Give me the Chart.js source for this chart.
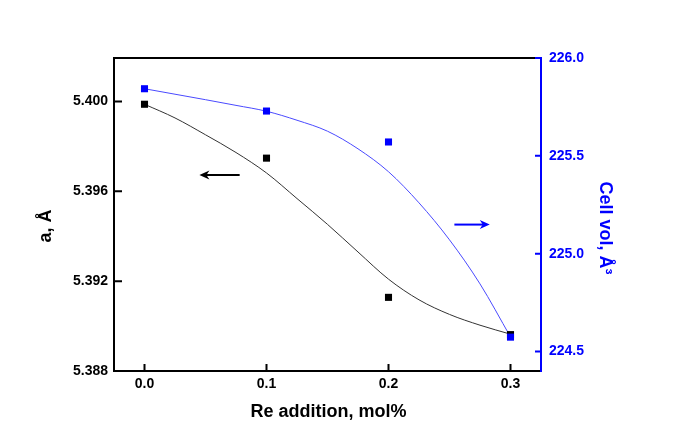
<!DOCTYPE html>
<html>
<head>
<meta charset="utf-8">
<script src="https://cdn.jsdelivr.net/npm/chart.js@4.4.1/dist/chart.umd.min.js"></script>
<style>
  body { margin: 0; background: #fff; }
  #wrap { width: 691px; height: 434px; position: relative; }
</style>
</head>
<body>
<div id="wrap"><canvas id="latticeChart"></canvas></div>
<script>
// measured points
var reAddition   = [0.0, 0.1, 0.2, 0.3];
var latticeA     = [5.39988, 5.39748, 5.39128, 5.38962];
var cellVolume   = [225.843, 225.729, 225.571, 224.574];

// fitted curves
var fitX         = [0, 0.025, 0.05, 0.075, 0.1, 0.125, 0.15, 0.175, 0.2, 0.225, 0.25, 0.275, 0.3];
var fitA         = [5.39988, 5.39927, 5.39852, 5.39773, 5.39682, 5.39568, 5.39453, 5.39330, 5.39209, 5.39117, 5.39052, 5.39004, 5.38964];
var fitVol       = [225.843, 225.815, 225.787, 225.758, 225.728, 225.682, 225.626, 225.536, 225.419, 225.260, 225.071, 224.846, 224.575];

// tick labels
var xTicks       = [0.0, 0.1, 0.2, 0.3];
var aTicks       = [5.388, 5.392, 5.396, 5.400];
var volTicks     = [224.5, 225.0, 225.5, 226.0];

// arrows: [x start, x end, y] in data units, head at the end
var arrowA       = [0.078, 0.045, 5.39673];
var arrowVol     = [0.254, 0.283, 225.149];

var blue = '#0000ff';

function pairs(xs, ys) {
  var out = [];
  for (var i = 0; i < xs.length; i++) out.push({ x: xs[i], y: ys[i] });
  return out;
}

function fixedTicks(list) {
  return function (scale) {
    scale.ticks = list.map(function (v) { return { value: v }; });
  };
}

function drawArrow(ctx, x1, x2, y, color) {
  var dir = x2 > x1 ? 1 : -1;
  ctx.save();
  ctx.strokeStyle = color;
  ctx.fillStyle = color;
  ctx.lineWidth = 2;
  ctx.beginPath();
  ctx.moveTo(x1, y);
  ctx.lineTo(x2 - dir * 6, y);
  ctx.stroke();
  ctx.beginPath();
  ctx.moveTo(x2, y);
  ctx.lineTo(x2 - dir * 10, y - 4.5);
  ctx.lineTo(x2 - dir * 7, y);
  ctx.lineTo(x2 - dir * 10, y + 4.5);
  ctx.closePath();
  ctx.fill();
  ctx.restore();
}

// frame top line, inward ticks, axis titles and arrows
var decorPlugin = {
  id: 'decor',
  afterDraw: function (chart) {
    var ctx = chart.ctx;
    var area = chart.chartArea;
    var sx = chart.scales.x, sa = chart.scales.yA, sv = chart.scales.yV;

    ctx.save();
    ctx.lineWidth = 2;
    ctx.strokeStyle = '#000';
    ctx.beginPath();
    ctx.moveTo(area.left - 1, area.top);
    ctx.lineTo(area.right, area.top);
    ctx.stroke();

    ctx.beginPath();
    sa.ticks.forEach(function (t) {
      var y = sa.getPixelForValue(t.value);
      ctx.moveTo(area.left, y);
      ctx.lineTo(area.left + 8, y);
    });
    sx.ticks.forEach(function (t) {
      var x = sx.getPixelForValue(t.value);
      ctx.moveTo(x, area.bottom);
      ctx.lineTo(x, area.bottom - 7);
    });
    ctx.stroke();

    ctx.strokeStyle = blue;
    ctx.beginPath();
    sv.ticks.forEach(function (t) {
      var y = sv.getPixelForValue(t.value);
      ctx.moveTo(area.right, y);
      ctx.lineTo(area.right - 6, y);
    });
    ctx.stroke();

    // axis titles
    ctx.font = 'bold 18px "Liberation Sans", Arial, sans-serif';
    ctx.textAlign = 'center';
    ctx.textBaseline = 'middle';
    ctx.fillStyle = '#000';
    ctx.fillText('Re addition, mol%', (area.left + area.right) / 2 + 1, 412);

    ctx.save();
    ctx.translate(46, 226);
    ctx.rotate(-Math.PI / 2);
    ctx.fillText('a, Å', 0, 0);
    ctx.restore();

    ctx.save();
    ctx.fillStyle = blue;
    ctx.translate(605, 228);
    ctx.rotate(Math.PI / 2);
    ctx.fillText('Cell vol, Å³', 0, 0);
    ctx.restore();
    ctx.restore();

    drawArrow(ctx, sx.getPixelForValue(arrowA[0]), sx.getPixelForValue(arrowA[1]),
      sa.getPixelForValue(arrowA[2]), '#000');
    drawArrow(ctx, sx.getPixelForValue(arrowVol[0]), sx.getPixelForValue(arrowVol[1]),
      sv.getPixelForValue(arrowVol[2]), blue);
  }
};

var tickFont = { family: '"Liberation Sans", Arial, sans-serif', size: 14, weight: 'bold' };

var latticeChart = new Chart(document.getElementById('latticeChart').getContext('2d'), {
  type: 'scatter',
  data: {
    datasets: [
      {
        label: 'a fit',
        data: pairs(fitX, fitA),
        yAxisID: 'yA',
        showLine: true,
        borderColor: '#333333',
        borderWidth: 1,
        pointRadius: 0,
        cubicInterpolationMode: 'monotone',
        order: 3
      },
      {
        label: 'vol fit',
        data: pairs(fitX, fitVol),
        yAxisID: 'yV',
        showLine: true,
        borderColor: '#4a4aff',
        borderWidth: 1,
        pointRadius: 0,
        cubicInterpolationMode: 'monotone',
        order: 2
      },
      {
        label: 'a',
        data: pairs(reAddition, latticeA),
        yAxisID: 'yA',
        pointStyle: 'rect',
        pointRadius: 5,
        backgroundColor: '#000',
        borderWidth: 0,
        order: 1
      },
      {
        label: 'Cell vol',
        data: pairs(reAddition, cellVolume),
        yAxisID: 'yV',
        pointStyle: 'rect',
        pointRadius: 5,
        backgroundColor: blue,
        borderWidth: 0,
        order: 0
      }
    ]
  },
  options: {
    responsive: true,
    maintainAspectRatio: false,
    animation: false,
    layout: { padding: { top: 58, left: 0, right: 0, bottom: 0 } },
    plugins: { legend: { display: false }, tooltip: { enabled: false } },
    scales: {
      x: {
        type: 'linear',
        min: -0.025,
        max: 0.325,
        afterBuildTicks: fixedTicks(xTicks),
        afterFit: function (s) { s.height = 63; },
        grid: { drawOnChartArea: false, drawTicks: false },
        border: { color: '#000', width: 2 },
        ticks: {
          padding: 5,
          color: '#000',
          font: tickFont,
          callback: function (v) { return Number(v).toFixed(1); }
        }
      },
      yA: {
        type: 'linear',
        position: 'left',
        min: 5.388,
        max: 5.40194,
        afterBuildTicks: fixedTicks(aTicks),
        afterFit: function (s) { s.width = 114; },
        grid: { drawOnChartArea: false, drawTicks: false },
        border: { color: '#000', width: 2 },
        ticks: {
          padding: 6,
          color: '#000',
          font: tickFont,
          callback: function (v) { return Number(v).toFixed(3); }
        }
      },
      yV: {
        type: 'linear',
        position: 'right',
        min: 224.401,
        max: 226.0,
        afterBuildTicks: fixedTicks(volTicks),
        afterFit: function (s) { s.width = 150; },
        grid: { drawOnChartArea: false, drawTicks: false },
        border: { color: blue, width: 2 },
        ticks: {
          padding: 8,
          color: blue,
          font: tickFont,
          callback: function (v) { return Number(v).toFixed(1); }
        }
      }
    }
  },
  plugins: [decorPlugin]
});
</script>
</body>
</html>
